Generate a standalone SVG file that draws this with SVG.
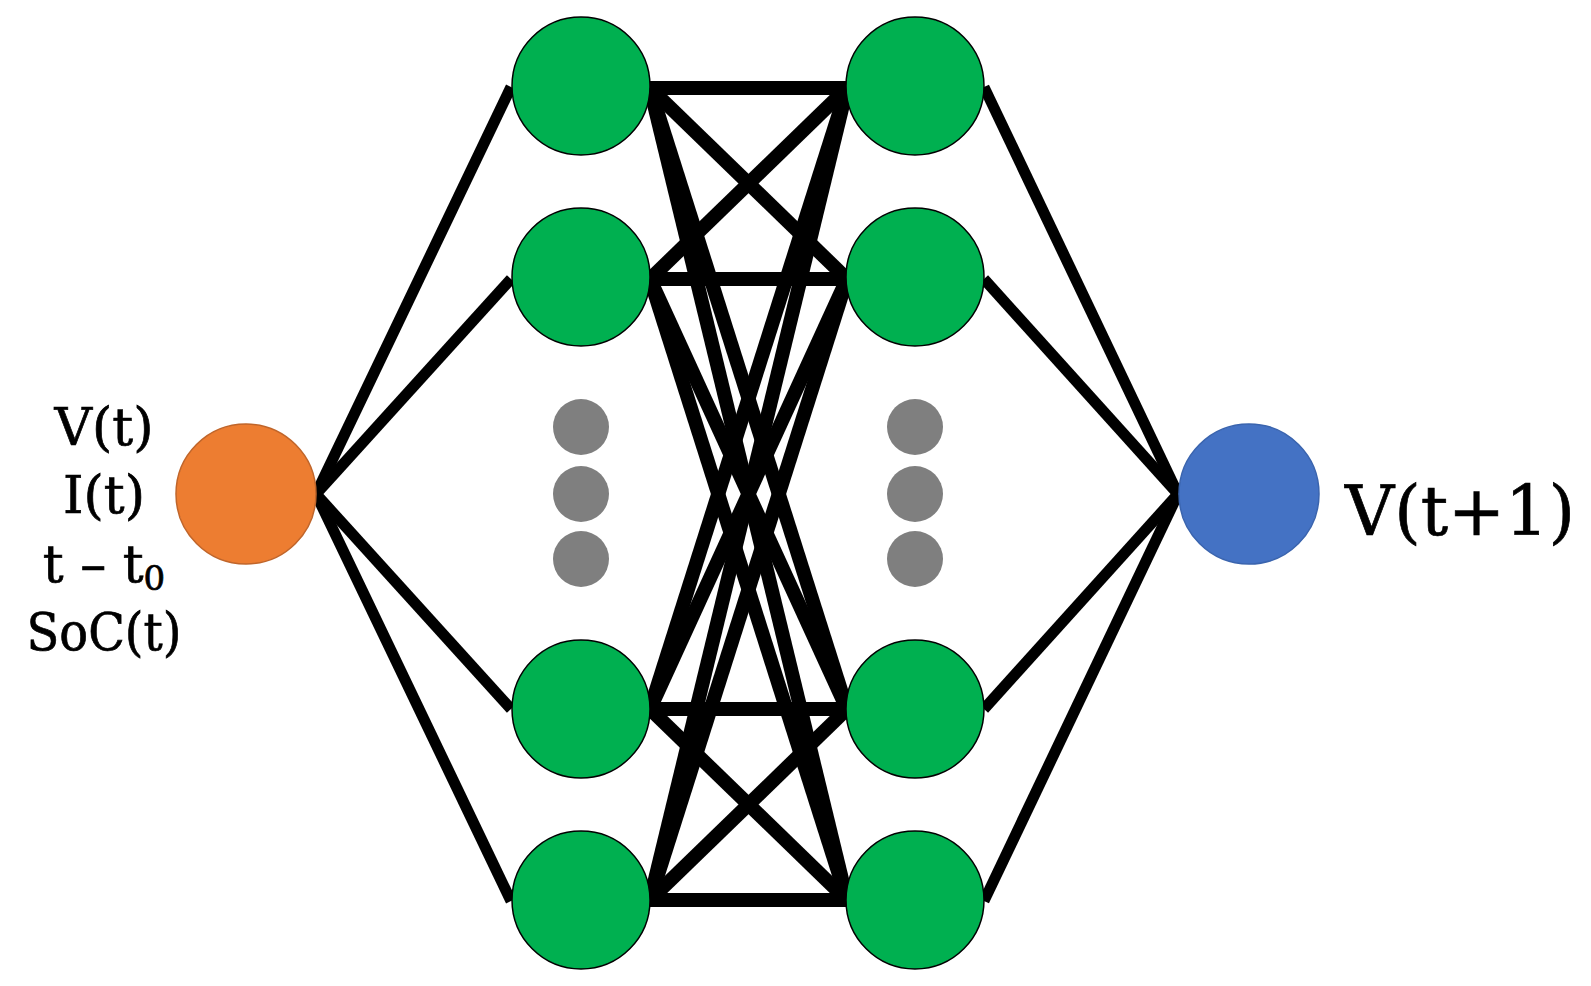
<svg xmlns="http://www.w3.org/2000/svg" width="1591" height="986" viewBox="0 0 1591 986">
<style>
.c{stroke:#000;stroke-width:14;stroke-linecap:butt;fill:none}
.i{stroke:#000;stroke-width:11;stroke-linecap:butt;fill:none}
.g{fill:#00B050;stroke:#000;stroke-width:1.5}
.d{fill:#7F7F7F}
.t{font-family:"DejaVu Serif",serif;fill:#000;stroke:#000;stroke-width:0.7}
</style>
<rect width="1591" height="986" fill="#fff"/>
<g id="connectors">
<line class="i" x1="316" y1="494" x2="511" y2="87"/>
<line class="i" x1="316" y1="494" x2="511" y2="279"/>
<line class="i" x1="316" y1="494" x2="511" y2="709"/>
<line class="i" x1="316" y1="494" x2="511" y2="901"/>
<line class="c" x1="650" y1="88" x2="847" y2="88"/>
<line class="c" x1="650" y1="88" x2="847" y2="279"/>
<line class="c" x1="650" y1="88" x2="847" y2="709"/>
<line class="c" x1="650" y1="88" x2="847" y2="900"/>
<line class="c" x1="650" y1="279" x2="847" y2="88"/>
<line class="c" x1="650" y1="279" x2="847" y2="279"/>
<line class="c" x1="650" y1="279" x2="847" y2="709"/>
<line class="c" x1="650" y1="279" x2="847" y2="900"/>
<line class="c" x1="650" y1="709" x2="847" y2="88"/>
<line class="c" x1="650" y1="709" x2="847" y2="279"/>
<line class="c" x1="650" y1="709" x2="847" y2="709"/>
<line class="c" x1="650" y1="709" x2="847" y2="900"/>
<line class="c" x1="650" y1="900" x2="847" y2="88"/>
<line class="c" x1="650" y1="900" x2="847" y2="279"/>
<line class="c" x1="650" y1="900" x2="847" y2="709"/>
<line class="c" x1="650" y1="900" x2="847" y2="900"/>
<line class="i" x1="984" y1="87" x2="1178" y2="494"/>
<line class="i" x1="984" y1="279" x2="1178" y2="494"/>
<line class="i" x1="984" y1="709" x2="1178" y2="494"/>
<line class="i" x1="984" y1="901" x2="1178" y2="494"/>
</g>
<g id="input"><circle cx="246" cy="494" r="70" fill="#ED7D31" stroke="#C0652A" stroke-width="1.5"/></g>
<g id="output"><circle cx="1249" cy="494" r="70" fill="#4472C4" stroke="#3A64AE" stroke-width="1.5"/></g>
<g id="h1n1"><circle class="g" cx="581" cy="86" r="69"/></g>
<g id="h1n2"><circle class="g" cx="581" cy="277" r="69"/></g>
<g id="h1n3"><circle class="g" cx="581" cy="709" r="69"/></g>
<g id="h1n4"><circle class="g" cx="581" cy="900" r="69"/></g>
<g id="h2n1"><circle class="g" cx="915" cy="86" r="69"/></g>
<g id="h2n2"><circle class="g" cx="915" cy="277" r="69"/></g>
<g id="h2n3"><circle class="g" cx="915" cy="709" r="69"/></g>
<g id="h2n4"><circle class="g" cx="915" cy="900" r="69"/></g>
<g id="dots1">
<circle class="d" cx="581" cy="427" r="28"/>
<circle class="d" cx="581" cy="494" r="28"/>
<circle class="d" cx="581" cy="559" r="28"/>
</g>
<g id="dots2">
<circle class="d" cx="915" cy="427" r="28"/>
<circle class="d" cx="915" cy="494" r="28"/>
<circle class="d" cx="915" cy="559" r="28"/>
</g>
<g id="input-labels" class="t" font-size="52" text-anchor="middle">
<text x="104" y="445">V(t)</text>
<text x="104" y="513">I(t)</text>
<text x="104" y="582">t – t<tspan font-size="34" dy="8">0</tspan></text>
<text x="104" y="650" textLength="155" lengthAdjust="spacingAndGlyphs">SoC(t)</text>
</g>
<g id="output-label"><text class="t" x="1345" y="535" font-size="70" textLength="230" lengthAdjust="spacingAndGlyphs">V(t+1)</text></g>
</svg>
